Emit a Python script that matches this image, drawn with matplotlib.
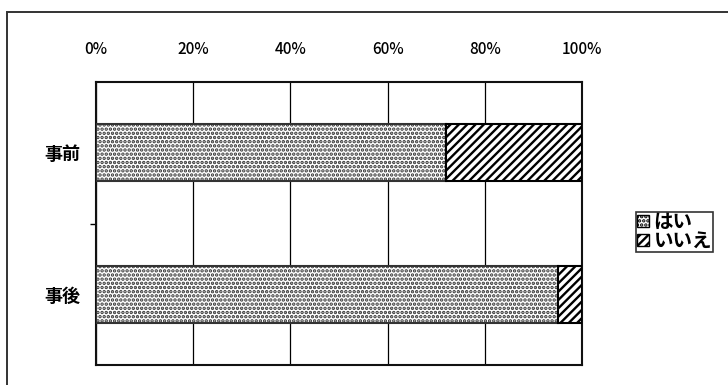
import matplotlib
matplotlib.use("Agg")
import matplotlib.pyplot as plt
from matplotlib.patches import Rectangle, Patch
import numpy as np

plt.rcParams['font.family'] = ['Noto Sans CJK JP', 'DejaVu Sans']
plt.rcParams['hatch.linewidth'] = 1.7

# share of answers (%)
stages = ['事前', '事後']
yes_pct = [72, 95]
no_pct = [28, 5]
series_names = ['はい', 'いいえ']
x_ticks = [0, 20, 40, 60, 80, 100]

yes_hatch = '....'
no_hatch = '////'

fig = plt.figure(figsize=(7.28, 3.85), dpi=100)
ax = fig.add_axes([96 / 728, 1 - 365 / 385, (582 - 96) / 728, (365 - 82) / 385])

# outer chart frame, right and bottom edges run off the sheet
top = 1 - 12 / 385
fig.patches.append(Rectangle((7 / 728, -0.2), 1.2, top + 0.2,
                             transform=fig.transFigure, fill=False,
                             edgecolor='#333333', linewidth=1.4))

y = np.arange(len(stages))
ax.barh(y, yes_pct, height=0.4, color='white', edgecolor='#333333',
        hatch=yes_hatch, linewidth=1.5, zorder=3, label=series_names[0])
ax.barh(y, no_pct, left=yes_pct, height=0.4, color='white', edgecolor='black',
        hatch=no_hatch, linewidth=1.5, zorder=3, label=series_names[1])

ax.set_xlim(0, 100)
ax.set_ylim(1.5, -0.5)
ax.set_xticks(x_ticks)
ax.set_xticklabels([f'{v}%' for v in x_ticks], fontsize=11, fontweight='medium')
ax.xaxis.tick_top()
ax.tick_params(axis='x', length=0, pad=17)
ax.grid(axis='x', color='black', linewidth=0.9, zorder=1)

ax.set_yticks(y)
ax.set_yticklabels(stages, fontsize=13, fontweight='bold')
ax.set_yticks([0.5], minor=True)
ax.tick_params(axis='y', which='major', length=0, pad=11)
ax.tick_params(axis='y', which='minor', length=4, width=1)

for s in ax.spines.values():
    s.set_linewidth(1.5)
    s.set_color('#111111')

handles = [Patch(facecolor='white', edgecolor='black', hatch=yes_hatch, label=series_names[0]),
           Patch(facecolor='white', edgecolor='black', hatch=no_hatch, label=series_names[1])]
leg = ax.legend(handles=handles, loc='upper left', bbox_to_anchor=(636 / 728, 1 - 212 / 385),
                bbox_transform=fig.transFigure, prop={'size': 14, 'weight': 'bold'},
                frameon=True, fancybox=False,
                handlelength=0.6, handleheight=0.6, handletextpad=0.25, borderpad=0.05,
                labelspacing=0.0, borderaxespad=0)
leg.get_frame().set_edgecolor('black')
leg.get_frame().set_linewidth(1.2)

fig.savefig('out.png', dpi=100)
